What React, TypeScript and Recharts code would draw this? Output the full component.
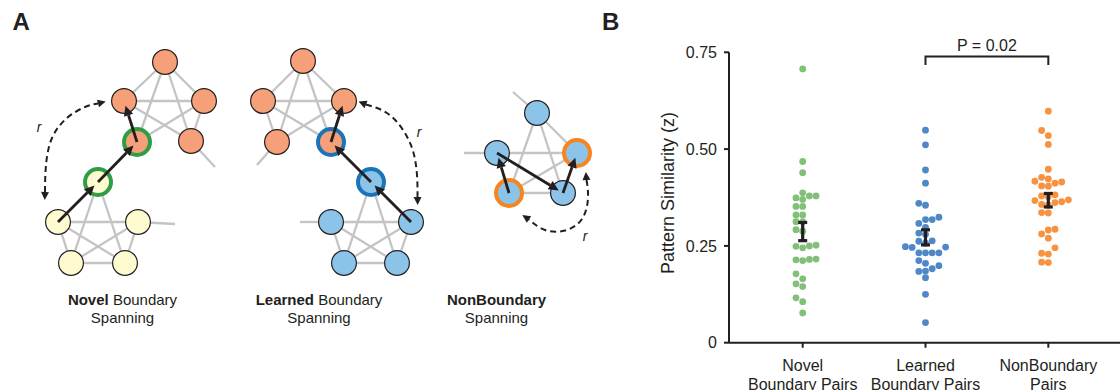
import React from 'react';
import { ComposedChart, Line, Scatter, XAxis, YAxis, ErrorBar, ReferenceDot } from 'recharts';

const FONT = '"Liberation Sans", Arial, Helvetica, sans-serif';
const INK = '#231f20';

// ---------- panel B: pattern similarity per pair type ----------
const categoryLines = [
  ['Novel', 'Boundary Pairs'],
  ['Learned', 'Boundary Pairs'],
  ['NonBoundary', 'Pairs'],
];
const novelValues = [0.707, 0.468, 0.439, 0.387, 0.379, 0.379, 0.374, 0.37, 0.352, 0.352, 0.33, 0.33, 0.3125, 0.3125, 0.292, 0.288, 0.252, 0.25, 0.249, 0.245, 0.216, 0.215, 0.214, 0.212, 0.178, 0.165, 0.152, 0.145, 0.116, 0.106, 0.077];
const learnedValues = [0.549, 0.511, 0.446, 0.412, 0.36, 0.355, 0.324, 0.318, 0.318, 0.308, 0.298, 0.283, 0.28, 0.263, 0.262, 0.257, 0.248, 0.247, 0.246, 0.232, 0.232, 0.232, 0.232, 0.212, 0.205, 0.199, 0.191, 0.185, 0.184, 0.168, 0.125, 0.052];
const nonBoundaryValues = [0.598, 0.548, 0.535, 0.512, 0.448, 0.427, 0.423, 0.417, 0.415, 0.412, 0.405, 0.404, 0.382, 0.379, 0.377, 0.369, 0.367, 0.364, 0.362, 0.357, 0.355, 0.336, 0.335, 0.293, 0.291, 0.281, 0.27, 0.245, 0.231, 0.229, 0.208, 0.207];
const groupMeans = [0.287, 0.272, 0.368];
const groupSem = [0.0235, 0.0195, 0.0175];
const yTicks = [0, 0.25, 0.5, 0.75];
const pLabel = 'P = 0.02';
const comparedGroups = [2, 3];
const bracketTop = 0.739;
const bracketLeg = 0.717;

// ---------- panel A: community graph diagrams ----------
const graphNodes = [
  // novel boundary spanning
  { id: 'No1', x: 165, y: 62, group: 'orange' },
  { id: 'No2', x: 124, y: 101, group: 'orange' },
  { id: 'No3', x: 204, y: 101, group: 'orange' },
  { id: 'No4', x: 137, y: 142, group: 'orange' },
  { id: 'No5', x: 191, y: 141, group: 'orange' },
  { id: 'Ny1', x: 98, y: 182, group: 'yellow' },
  { id: 'Ny2', x: 58, y: 222, group: 'yellow' },
  { id: 'Ny3', x: 138, y: 222, group: 'yellow' },
  { id: 'Ny4', x: 71, y: 263, group: 'yellow' },
  { id: 'Ny5', x: 125, y: 263, group: 'yellow' },
  // learned boundary spanning
  { id: 'Lo1', x: 303, y: 61, group: 'orange' },
  { id: 'Lo2', x: 263, y: 101, group: 'orange' },
  { id: 'Lo3', x: 344, y: 101, group: 'orange' },
  { id: 'Lo4', x: 277, y: 142, group: 'orange' },
  { id: 'Lo5', x: 331, y: 142, group: 'orange' },
  { id: 'Lb1', x: 371, y: 182, group: 'blue' },
  { id: 'Lb2', x: 331, y: 222, group: 'blue' },
  { id: 'Lb3', x: 411, y: 222, group: 'blue' },
  { id: 'Lb4', x: 344, y: 263, group: 'blue' },
  { id: 'Lb5', x: 397, y: 263, group: 'blue' },
  // nonboundary spanning
  { id: 'Bb1', x: 537, y: 113, group: 'blue' },
  { id: 'Bb2', x: 497, y: 153, group: 'blue' },
  { id: 'Bb3', x: 577, y: 153, group: 'blue' },
  { id: 'Bb4', x: 509, y: 193, group: 'blue' },
  { id: 'Bb5', x: 563, y: 193, group: 'blue' },
];
// each community is a clique minus the edge between its two boundary nodes
const communities = [
  { members: ['No1', 'No2', 'No3', 'No4', 'No5'], open: ['No4', 'No5'] },
  { members: ['Ny1', 'Ny2', 'Ny3', 'Ny4', 'Ny5'], open: ['Ny1', 'Ny3'] },
  { members: ['Lo1', 'Lo2', 'Lo3', 'Lo4', 'Lo5'], open: ['Lo4', 'Lo5'] },
  { members: ['Lb1', 'Lb2', 'Lb3', 'Lb4', 'Lb5'], open: ['Lb1', 'Lb2'] },
  { members: ['Bb1', 'Bb2', 'Bb3', 'Bb4', 'Bb5'], open: ['Bb1', 'Bb2'] },
];
const bridges = [['No4', 'Ny1'], ['Lo5', 'Lb1']];
const stubs = [
  { from: 'No5', x: 215, y: 167 },
  { from: 'Ny3', x: 175, y: 224 },
  { from: 'Lo4', x: 257, y: 165 },
  { from: 'Lb2', x: 300, y: 222 },
  { from: 'Bb1', x: 513, y: 92 },
  { from: 'Bb2', x: 464, y: 153 },
];
const walks = [
  ['Ny2', 'Ny1', 'No4', 'No2'],
  ['Lb3', 'Lb1', 'Lo5', 'Lo3'],
  ['Bb4', 'Bb2', 'Bb5', 'Bb3'],
];
const ringed: Record<string, string> = { Ny1: 'green', No4: 'green', Lb1: 'blue', Lo5: 'blue', Bb4: 'orange', Bb3: 'orange' };
const lagArcs = [
  [{ x: 45, y: 192 }, { x: 46, y: 165 }, { x: 52, y: 138 }, { x: 67, y: 118 }, { x: 85, y: 107 }, { x: 98, y: 103.5 }],
  [{ x: 366, y: 104.5 }, { x: 387, y: 113 }, { x: 403, y: 130 }, { x: 413, y: 151 }, { x: 417, y: 175 }, { x: 417.5, y: 197 }],
  [{ x: 586.5, y: 180 }, { x: 588, y: 198 }, { x: 582, y: 219 }, { x: 565, y: 230.5 }, { x: 545, y: 230 }, { x: 529, y: 219.5 }],
];
const lagLabels = [{ x: 39, y: 127 }, { x: 419, y: 132 }, { x: 585, y: 236 }];
const panelTitles = [
  { cx: 122.5, bold: 'Novel', rest: ' Boundary', line2: 'Spanning' },
  { cx: 319, bold: 'Learned', rest: ' Boundary', line2: 'Spanning' },
  { cx: 496.5, bold: 'NonBoundary', rest: '', line2: 'Spanning' },
];

const nodeFill: Record<string, string> = { orange: '#f5a079', yellow: '#fefbd1', blue: '#8cc3e9' };
const ringColor: Record<string, string> = { green: '#2f9d44', blue: '#1b74b8', orange: '#f6841f' };
const dotColor = ['#82c07a', '#4f88c6', '#f79240'];

// ---------- layout helpers ----------
const PX_PER_Y = 290.4 / 0.75;
const PX_PER_X = 393 / 3.2;

// simple beeswarm: each value goes to the nearest free column
const swarm = (values: number[], center: number) => {
  const order = values.map((_, i) => i).sort((a, b) => values[a] - values[b]);
  const placed: { v: number; k: number }[] = [];
  const out: { x: number; y: number }[] = new Array(values.length);
  const slots = [0, -1, 1, 2, -2, 3, -3, 4, -4];
  order.forEach((i) => {
    const v = values[i];
    const k = slots.find((s) => placed.every((p) => p.k !== s || Math.abs(p.v - v) * PX_PER_Y >= 6.3)) ?? 0;
    placed.push({ v, k });
    out[i] = { x: center + (k * 6.7) / PX_PER_X, y: v };
  });
  return out;
};

const groups = [novelValues, learnedValues, nonBoundaryValues].map((vals, i) => swarm(vals, i + 1));
const meanPoints = groupMeans.map((m, i) => ({ x: i + 1, y: m, err: groupSem[i] }));
const bracket = [
  { x: comparedGroups[0], y: bracketLeg },
  { x: comparedGroups[0], y: bracketTop },
  { x: comparedGroups[1], y: bracketTop },
  { x: comparedGroups[1], y: bracketLeg },
];

const nodeById: Record<string, any> = {};
graphNodes.forEach((n) => (nodeById[n.id] = n));

const edgeList: { x: number; y: number }[][] = [];
communities.forEach((c) => {
  c.members.forEach((a, i) =>
    c.members.slice(i + 1).forEach((b) => {
      if (c.open.includes(a) && c.open.includes(b)) return;
      edgeList.push([nodeById[a], nodeById[b]]);
    })
  );
});
bridges.forEach(([a, b]) => edgeList.push([nodeById[a], nodeById[b]]));
stubs.forEach((s) => edgeList.push([nodeById[s.from], { x: s.x, y: s.y }]));

// arrow shaft ends where the head begins
const HEAD = 10;
const arrowList = walks.flatMap((w) =>
  w.slice(1).map((id, i) => {
    const a = nodeById[w[i]];
    const b = nodeById[id];
    const len = Math.hypot(b.x - a.x, b.y - a.y);
    const ux = (b.x - a.x) / len;
    const uy = (b.y - a.y) / len;
    const back = 5 + HEAD;
    return { pts: [{ x: a.x, y: a.y }, { x: b.x - ux * back, y: b.y - uy * back }], ux, uy };
  })
);

const head = (cx: number, cy: number, ux: number, uy: number, len: number, half: number, key: string) => {
  const tx = cx + ux * len;
  const ty = cy + uy * len;
  const px = -uy * half;
  const py = ux * half;
  return <polygon key={key} points={`${tx},${ty} ${cx + px},${cy + py} ${cx - px},${cy - py}`} fill={INK} />;
};

const NodeShape = (p: any) => {
  const ring = ringed[p.payload.id];
  if (ring) {
    return <circle cx={p.cx} cy={p.cy} r={13} fill={nodeFill[p.payload.group]} stroke={ringColor[ring]} strokeWidth={4} />;
  }
  return <circle cx={p.cx} cy={p.cy} r={12.4} fill={nodeFill[p.payload.group]} stroke={INK} strokeWidth={1.2} />;
};

const CategoryTick = ({ x, y, payload }: any) => {
  const lines = categoryLines[Math.round(payload.value) - 1] ?? [];
  return (
    <text x={x} y={y} textAnchor="middle" fill={INK} fontSize={16} fontFamily={FONT}>
      {lines.map((t, i) => (
        <tspan key={i} x={x} dy={i === 0 ? 21 : 19}>
          {t}
        </tspan>
      ))}
    </text>
  );
};

const axisStroke = { stroke: INK, strokeWidth: 2 };

export default function App() {
  return (
    <div style={{ position: 'absolute', left: 0, top: 0, width: 1120, height: 390, overflow: 'hidden', background: '#fff', fontFamily: FONT, color: INK }}>
      <div style={{ position: 'absolute', left: 12.5, top: 10.4, fontSize: 24, lineHeight: '24px', fontWeight: 700 }}>A</div>
      <div style={{ position: 'absolute', left: 602, top: 10.4, fontSize: 24, lineHeight: '24px', fontWeight: 700 }}>B</div>

      {/* panel A */}
      <div style={{ position: 'absolute', left: 0, top: 0 }}>
        <ComposedChart width={620} height={340} margin={{ top: 0, right: 0, bottom: 0, left: 0 }}>
          <XAxis type="number" dataKey="x" domain={[0, 620]} hide allowDataOverflow />
          <YAxis type="number" dataKey="y" domain={[0, 340]} reversed hide allowDataOverflow />
          {edgeList.map((e, i) => (
            <Line key={`e${i}`} data={e} dataKey="y" stroke="#c4c4c4" strokeWidth={2.3} dot={false} isAnimationActive={false} zIndex={100} />
          ))}
          <Scatter data={graphNodes} shape={NodeShape} isAnimationActive={false} zIndex={200} />
          {arrowList.map((a, i) => (
            <Line
              key={`a${i}`}
              data={a.pts}
              dataKey="y"
              stroke={INK}
              strokeWidth={2.8}
              isAnimationActive={false}
              zIndex={300}
              dot={(p: any) => (p.index === 1 ? head(p.cx, p.cy, a.ux, a.uy, HEAD, 4.8, `h${i}`) : <g key={`g${i}-${p.index}`} />)}
            />
          ))}
          {lagArcs.map((arc, i) => (
            <Line
              key={`r${i}`}
              data={arc}
              dataKey="y"
              type="natural"
              stroke={INK}
              strokeWidth={2}
              strokeDasharray="6 4"
              isAnimationActive={false}
              zIndex={300}
              dot={(p: any) => {
                const n = arc.length;
                if (p.index !== 0 && p.index !== n - 1) return <g key={`k${i}-${p.index}`} />;
                const a = p.index === 0 ? arc[1] : arc[n - 2];
                const b = arc[p.index];
                const len = Math.hypot(b.x - a.x, b.y - a.y);
                return head(p.cx, p.cy, (b.x - a.x) / len, (b.y - a.y) / len, 8, 4, `k${i}-${p.index}`);
              }}
            />
          ))}
          <Scatter
            data={lagLabels}
            isAnimationActive={false}
            zIndex={300}
            shape={(p: any) => (
              <text x={p.cx} y={p.cy} textAnchor="middle" dominantBaseline="central" fontStyle="italic" fontSize={14} fontFamily={FONT} fill={INK}>
                r
              </text>
            )}
          />
        </ComposedChart>
      </div>
      {panelTitles.map((t) => (
        <div key={t.bold} style={{ position: 'absolute', left: t.cx - 100, top: 290.5, width: 200, textAlign: 'center', fontSize: 15, lineHeight: '18.5px' }}>
          <b>{t.bold}</b>
          {t.rest}
          <br />
          {t.line2}
        </div>
      ))}

      {/* panel B */}
      <div style={{ position: 'absolute', left: 667.5, top: 193.3, transform: 'translate(-50%, -50%) rotate(-90deg)', whiteSpace: 'nowrap', fontSize: 18, lineHeight: '18px' }}>
        Pattern Similarity (z)
      </div>
      <div style={{ position: 'absolute', left: 620, top: 0 }}>
        <ComposedChart width={502} height={390} margin={{ top: 52.3, right: 0, bottom: 2.3, left: 49 }}>
          <XAxis
            type="number"
            dataKey="x"
            domain={[0.4, 3.6]}
            ticks={[1, 2, 3]}
            interval={0}
            allowDataOverflow
            height={45}
            tickSize={5}
            tick={<CategoryTick />}
            tickLine={axisStroke}
            axisLine={axisStroke}
          />
          <YAxis
            type="number"
            dataKey="y"
            domain={[0, 0.75]}
            ticks={yTicks}
            interval={0}
            allowDataOverflow
            width={60}
            tickSize={5}
            tickMargin={7}
            tickFormatter={(v: number) => (v === 0 ? '0' : v.toFixed(2))}
            tick={{ fill: INK, fontSize: 16, fontFamily: FONT }}
            tickLine={axisStroke}
            axisLine={axisStroke}
          />
          {groups.map((pts, i) => (
            <Scatter
              key={i}
              data={pts}
              isAnimationActive={false}
              shape={(p: any) => <circle cx={p.cx} cy={p.cy} r={3.4} fill={dotColor[i]} />}
            />
          ))}
          <Scatter data={meanPoints} isAnimationActive={false} shape={() => <g />} zIndex={700}>
            <ErrorBar dataKey="err" direction="y" width={4.5} strokeWidth={3.2} stroke={INK} zIndex={700} />
          </Scatter>
          <Line data={bracket} dataKey="y" stroke={INK} strokeWidth={2} dot={false} isAnimationActive={false} />
          <ReferenceDot
            x={(comparedGroups[0] + comparedGroups[1]) / 2}
            y={bracketTop}
            r={0}
            stroke="none"
            label={{ value: pLabel, position: 'top', offset: 6, fill: INK, fontSize: 16, fontFamily: FONT }}
          />
        </ComposedChart>
      </div>
    </div>
  );
}
